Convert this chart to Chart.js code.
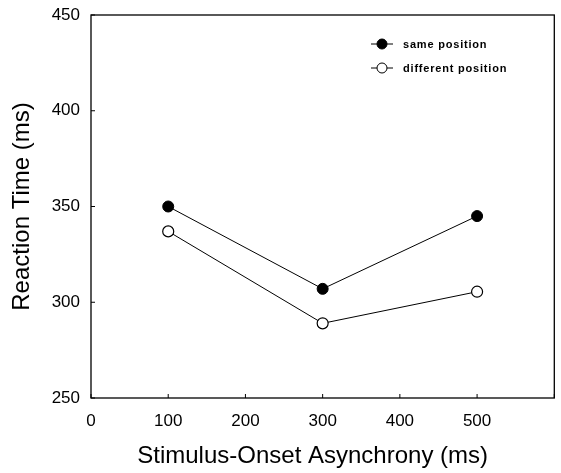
<!DOCTYPE html>
<html>
<head>
<meta charset="utf-8">
<script src="https://cdn.jsdelivr.net/npm/chart.js@4/dist/chart.umd.min.js"></script>
<style>
  html, body { margin: 0; padding: 0; background: #fff; }
  #wrap { width: 561px; height: 473px; }
</style>
</head>
<body>
<div id="wrap"><canvas id="rtChart" width="561" height="473"></canvas></div>
<script>
// SOA conditions (ms) and mean reaction times (ms)
const soa = [100, 300, 500];
const samePosition = [350, 307, 345];
const differentPosition = [337, 289, 305.5];
const seriesNames = ['same position', 'different position'];
const xTicks = [0, 100, 200, 300, 400, 500, 600];
const yTicks = [250, 300, 350, 400, 450];

const FONT = '"Liberation Sans", Arial, sans-serif';

// Box frame, inward tick marks and the small legend in the top right
const framePlugin = {
    id: 'frame',
    afterDraw(chart) {
        const { ctx, chartArea: a, scales } = chart;
        ctx.save();
        ctx.strokeStyle = '#000';
        ctx.lineWidth = 1.3;
        ctx.strokeRect(a.left, a.top, a.right - a.left, a.bottom - a.top);

        ctx.lineWidth = 1;
        ctx.beginPath();
        xTicks.forEach(v => {
            const x = scales.x.getPixelForValue(v);
            ctx.moveTo(x, a.bottom);
            ctx.lineTo(x, a.bottom - 4);
        });
        yTicks.forEach(v => {
            const y = scales.y.getPixelForValue(v);
            ctx.moveTo(a.left, y);
            ctx.lineTo(a.left + 4, y);
        });
        ctx.stroke();

        // legend
        const lx = 371, rows = [44, 68];
        rows.forEach((y, i) => {
            ctx.beginPath();
            ctx.lineWidth = 1;
            ctx.moveTo(lx, y);
            ctx.lineTo(lx + 22, y);
            ctx.stroke();
            ctx.beginPath();
            ctx.arc(lx + 11, y, 5, 0, Math.PI * 2);
            ctx.fillStyle = i === 0 ? '#000' : '#fff';
            ctx.fill();
            ctx.stroke();
            ctx.fillStyle = '#000';
            ctx.font = 'bold 11px ' + FONT;
            ctx.letterSpacing = '0.8px';
            ctx.textBaseline = 'middle';
            ctx.fillText(seriesNames[i], lx + 32, y + 1);
        });
        ctx.restore();
    }
};

new Chart(document.getElementById('rtChart'), {
    type: 'line',
    data: {
        datasets: [
            {
                label: seriesNames[0],
                data: soa.map((x, i) => ({ x, y: samePosition[i] })),
                borderColor: '#000',
                borderWidth: 1,
                pointRadius: 5.5,
                pointBackgroundColor: '#000',
                pointBorderColor: '#000',
                pointBorderWidth: 1
            },
            {
                label: seriesNames[1],
                data: soa.map((x, i) => ({ x, y: differentPosition[i] })),
                borderColor: '#000',
                borderWidth: 1,
                pointRadius: 5.5,
                pointBackgroundColor: '#fff',
                pointBorderColor: '#000',
                pointBorderWidth: 1.2
            }
        ]
    },
    options: {
        responsive: false,
        animation: false,
        layout: { padding: { top: 15, right: 6, left: 0, bottom: 0 } },
        plugins: {
            legend: { display: false },
            tooltip: { enabled: false }
        },
        scales: {
            x: {
                type: 'linear',
                min: 0,
                max: 600,
                afterBuildTicks: s => { s.ticks = xTicks.map(v => ({ value: v })); },
                afterFit: s => { s.height = 75; },
                grid: { display: false },
                border: { display: false },
                ticks: {
                    color: '#000',
                    font: { family: FONT, size: 17 },
                    padding: 5,
                    maxRotation: 0,
                    callback: v => (v === 600 ? '' : v)
                },
                title: {
                    display: true,
                    // trailing spaces nudge the centred title a little left, as in the original
                    text: 'Stimulus-Onset Asynchrony (ms)\u00a0\u00a0\u00a0',
                    color: '#000',
                    font: { family: FONT, size: 24 },
                    padding: { top: 10, bottom: 2 }
                }
            },
            y: {
                min: 250,
                max: 450,
                afterBuildTicks: s => { s.ticks = yTicks.map(v => ({ value: v })); },
                afterFit: s => { s.width = 91; },
                grid: { display: false },
                border: { display: false },
                ticks: {
                    color: '#000',
                    font: { family: FONT, size: 17 },
                    padding: 3
                },
                title: {
                    display: true,
                    text: 'Reaction Time (ms)',
                    color: '#000',
                    font: { family: FONT, size: 24 },
                    padding: { top: 8, bottom: 4 }
                }
            }
        }
    },
    plugins: [framePlugin]
});
</script>
</body>
</html>
